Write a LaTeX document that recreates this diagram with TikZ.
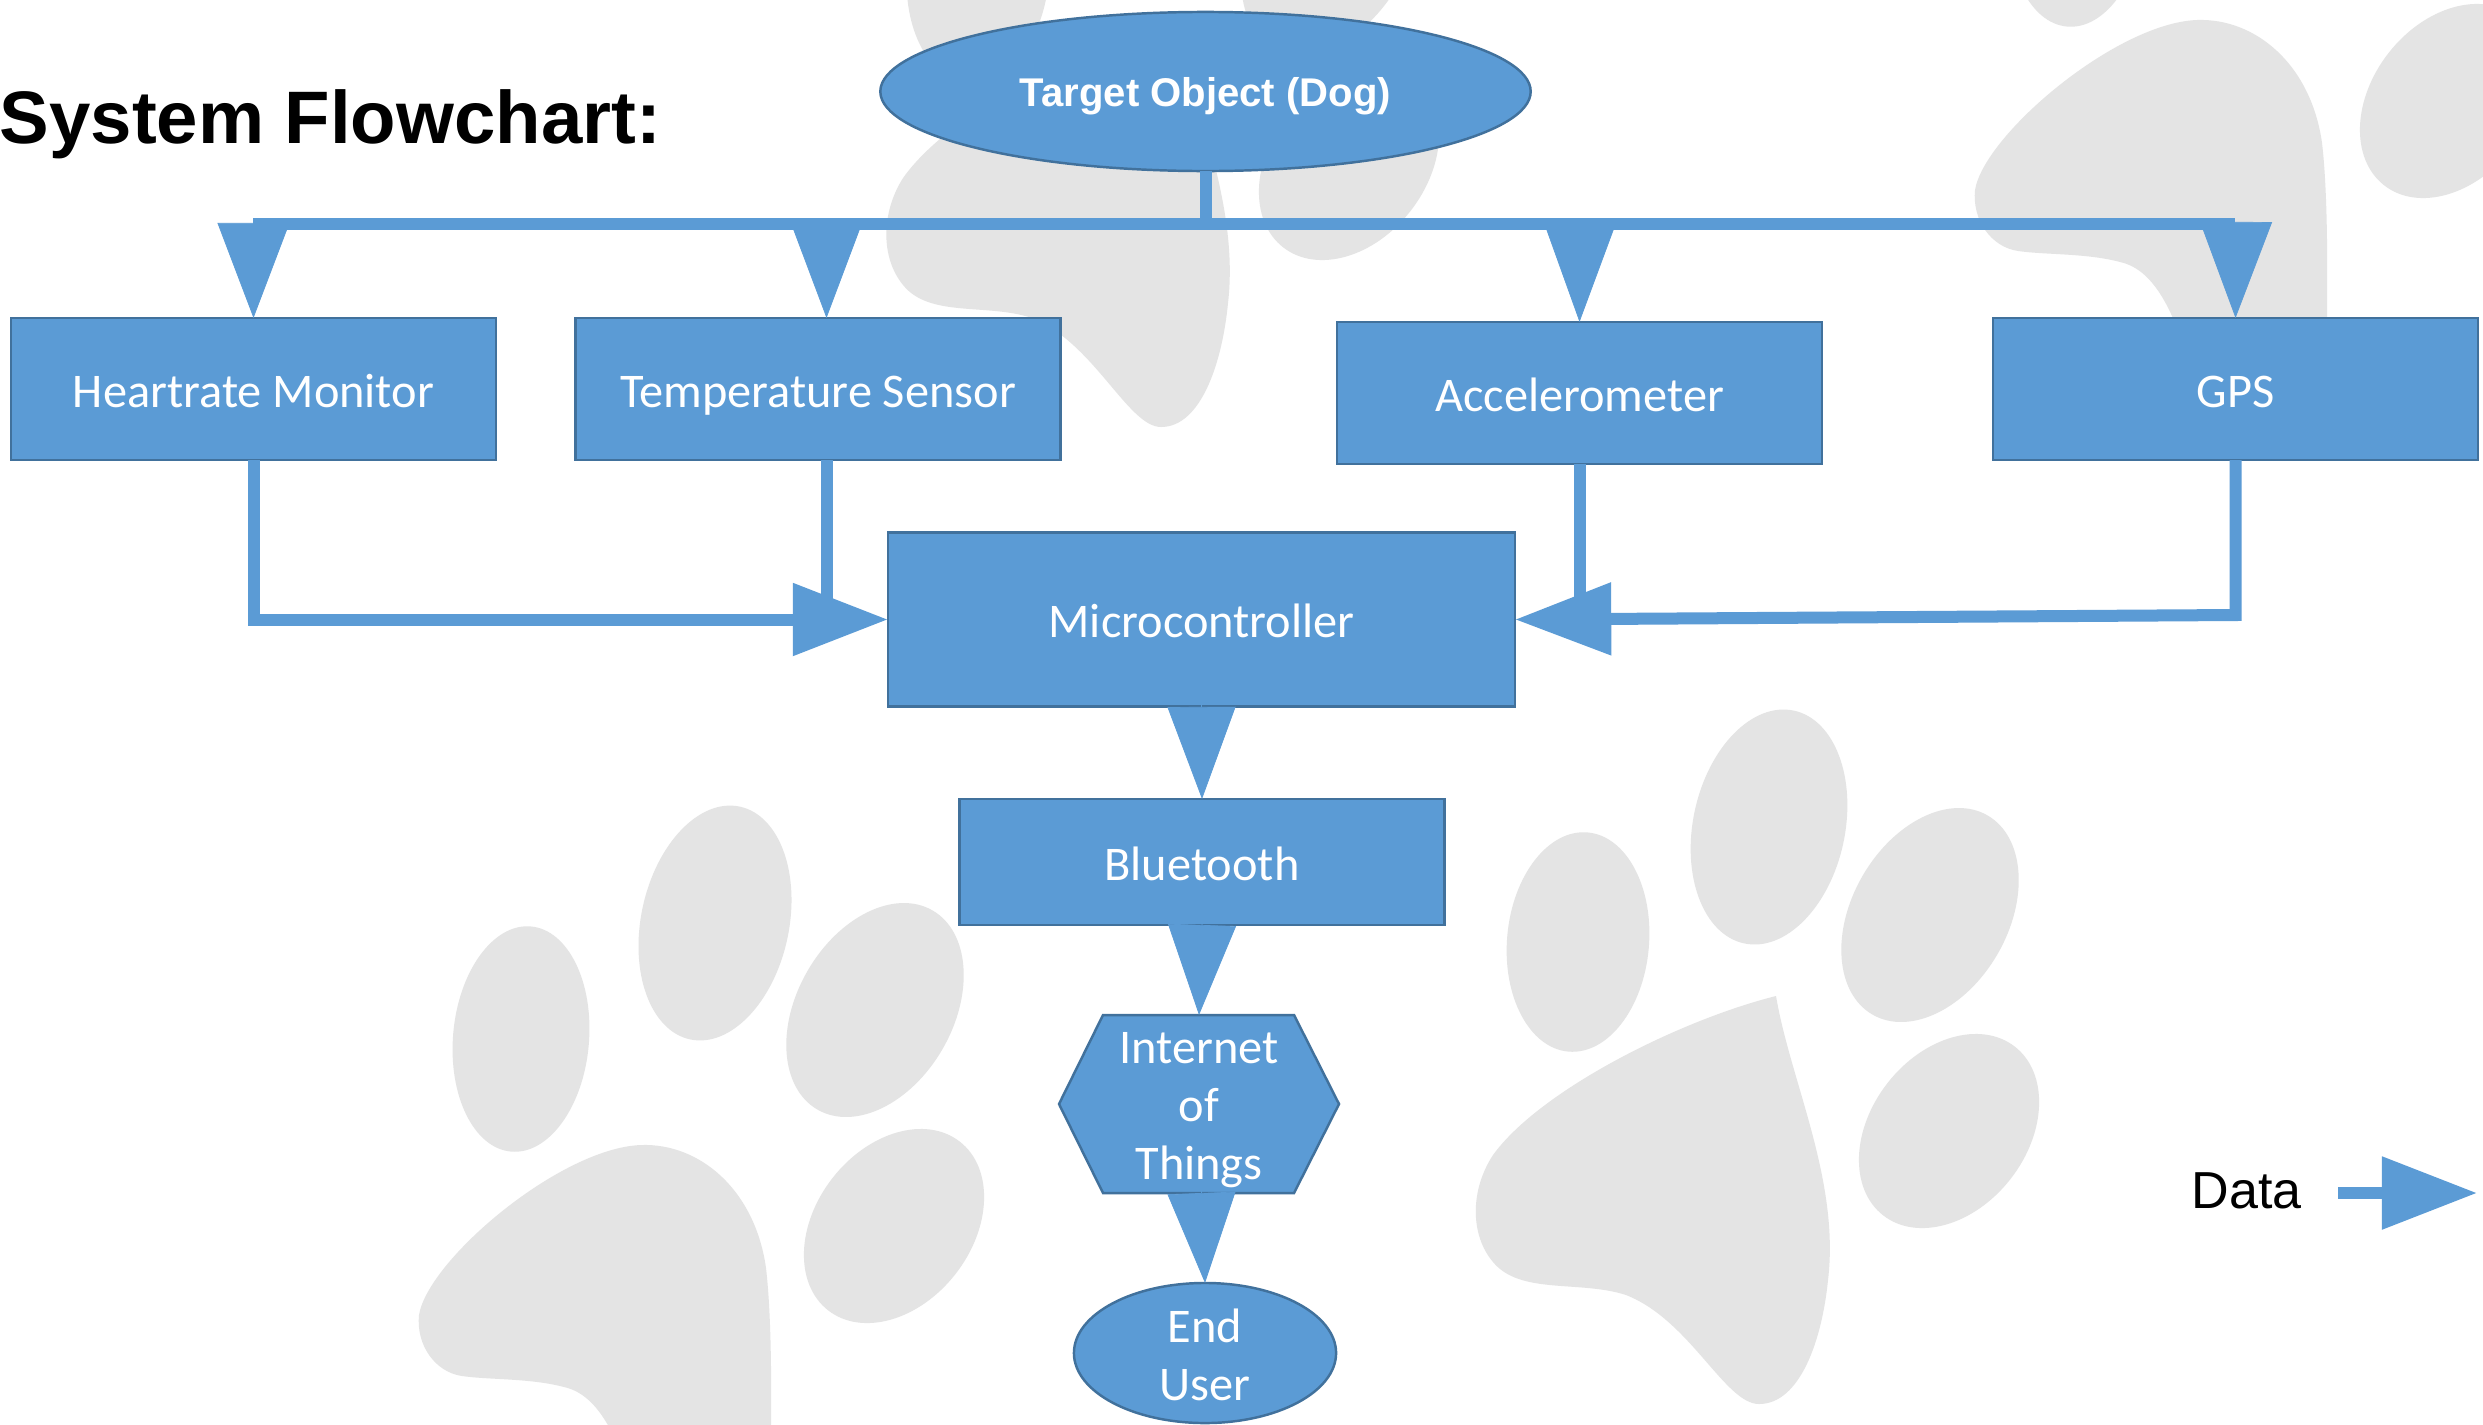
\documentclass[tikz,border=0pt]{standalone}
\usepackage{fontspec}
\setmainfont{Carlito}
\newfontfamily\arialf{Liberation Sans}
\usetikzlibrary{arrows.meta,shapes.geometric}
\definecolor{fillblue}{HTML}{5B9BD5}
\definecolor{edgeblue}{HTML}{41719C}
\definecolor{pawgray}{HTML}{E4E4E4}
\tikzset{
  shapebase/.style={draw=edgeblue,fill=fillblue,line width=0.7pt,text=white,inner sep=0pt,outer sep=0pt,align=center,
     font=\fontsize{13.75}{16.6}\selectfont},
  boxnode/.style={shapebase,rectangle,minimum width=#1,text height=0.44cm,text depth=0.08cm},
  busline/.style={draw=fillblue,line width=0.12cm},
  flowline/.style={draw=fillblue,line width=0.12cm,-{Triangle[length=#1,width=0.70cm]}},
  bighead/.style={draw=fillblue,fill=fillblue,line width=0.2pt,shorten <=-0.04cm,-{Triangle[length=#1,width=0.68cm]}},
  tophead/.style={draw=fillblue,fill=fillblue,line width=0.2pt,-{Triangle[length=#1,width=0.72cm]}},
  pawfill/.style={fill=pawgray,draw=none},
}
\newcommand{\toe}[5]{\fill[pawfill,shift={(#1,#2)},rotate=#5] (0,0) ellipse [x radius=#3,y radius=#4];}
\newcommand{\pawA}[2]{\begin{scope}[shift={(#1,#2)}]
  \toe{521}{1039}{68}{113}{-5}
  \toe{715}{923}{74}{119}{-12}
  \toe{875}{1010}{78}{115}{-30}
  \toe{894}{1226}{78}{107}{-38}
  \fill[pawfill] (419,1315) .. controls (428,1260) and (560,1148) .. (641,1145)
     .. controls (700,1143) and (755,1190) .. (766,1268)
     .. controls (772,1320) and (772,1400) .. (770,1510) -- (640,1510)
     .. controls (620,1440) and (600,1395) .. (564,1387)
     .. controls (530,1378) and (490,1380) .. (462,1376)
     .. controls (435,1372) and (416,1345) .. (419,1315) -- cycle;
\end{scope}}
% pad shift x,y; toe shift x,y; pad x-scale
\newcommand{\pawB}[5]{\begin{scope}[shift={(#3,#4)}]
  \toe{1578}{942}{71}{110}{-5}
  \toe{1769}{827}{76}{119}{-12}
  \toe{1930}{915}{78}{115}{-30}
  \toe{1949}{1131}{78}{107}{-38}
\end{scope}
\begin{scope}[shift={(#1,#2)},shift={(1828,0)},xscale=#5,shift={(-1828,0)}]
  \fill[pawfill] (1776,996) .. controls (1790,1080) and (1840,1180) .. (1828,1280)
     .. controls (1822,1340) and (1800,1404) .. (1759,1404)
     .. controls (1725,1404) and (1690,1320) .. (1626,1295)
     .. controls (1580,1280) and (1520,1295) .. (1493,1262)
     .. controls (1470,1235) and (1470,1190) .. (1493,1155)
     .. controls (1540,1090) and (1680,1020) .. (1776,996) -- cycle;
\end{scope}}
\begin{document}
\begin{tikzpicture}[x=0.01cm,y=-0.01cm]
\useasboundingbox (0,0) rectangle (2483,1424);
\begin{scope}
\clip (0,0) rectangle (2483,1424);
\fill[white] (0,0) rectangle (2483,1424);
\pawA{0}{0}
\pawB{0}{0}{0}{0}{1}
\pawB{-600}{-977}{-600}{-968}{0.97}
\pawA{1556}{-1125}
\end{scope}
% nodes
\node[shapebase,ellipse,minimum width=6.50cm,minimum height=1.59cm,text height=0.37cm,text depth=0.08cm,font=\arialf\bfseries\fontsize{11.4}{14}\selectfont] (target) at (1205.5,91.5) {Target Object (Dog)};
\node[boxnode=4.85cm,minimum height=1.42cm] (heart) at (253.5,389) {Heartrate Monitor};
\node[boxnode=4.85cm,minimum height=1.42cm] (temp) at (818,389) {Temperature Sensor};
\node[boxnode=4.85cm,minimum height=1.42cm] (accel) at (1579.5,393) {Accelerometer};
\node[boxnode=4.85cm,minimum height=1.42cm] (gps) at (2235.5,389) {GPS};
\node[boxnode=6.27cm,minimum height=1.74cm] (micro) at (1201.5,619.5) {Microcontroller};
\node[boxnode=4.85cm,minimum height=1.26cm] (bt) at (1202,862) {Bluetooth};
\fill[fillblue,draw=edgeblue,line width=0.7pt] (1103,1015) -- (1294,1015) -- (1339,1104) -- (1294,1193) -- (1103,1193) -- (1059,1104) -- cycle;
\node[text=white,inner sep=0pt,outer sep=0pt,align=center,minimum width=2.8cm,minimum height=1.78cm,font=\fontsize{13.75}{16.6}\selectfont] (iot) at (1199,1104) {\rule{0pt}{0.43cm}Internet\\of\\Things};
\node[shapebase,ellipse,minimum width=2.62cm,minimum height=1.40cm] (enduser) at (1205,1353) {\rule{0pt}{0.37cm}End\\User};
\node[anchor=base west,inner sep=0pt,font=\arialf\bfseries\fontsize{21.15}{25}\selectfont] (title) at (-1,143) {System Flowchart:};
\node[anchor=base west,inner sep=0pt,font=\arialf\fontsize{14.8}{18}\selectfont] (datalabel) at (2191,1208) {Data};
% coordinates
\coordinate (busL) at (253,224);
\coordinate (busR) at (2235,224);
\coordinate (hA) at (253.5,222);
\coordinate (hB) at (826.5,222);
\coordinate (hC) at (1580,222);
\coordinate (hD) at (2236,222);
\coordinate (jt) at (826.5,600);
\coordinate (cornerR) at (2235.5,615);
\coordinate (dataS) at (2338,1193);
\coordinate (dataE) at (2477,1193);
% connectors
\draw[busline] (target.south) -- (target.south |- busL);
\draw[busline] (busL) -- (busR);
\draw[tophead=0.95cm] (hA) -- (heart.north);
\draw[tophead=0.96cm] (hB) -- (hB |- temp.north);
\draw[tophead=0.99cm] (hC) -- (accel.north);
\draw[tophead=0.96cm] (hD) -- (gps.north);
\draw[busline] (hB |- temp.south) -- (jt);
\draw[busline] (accel.south) -- (accel.south |- jt);
\draw[flowline=0.95cm] (heart.south) -- (heart.south |- micro.west) -- (micro.west);
\draw[flowline=0.96cm] (gps.south) -- (cornerR) -- (micro.east);
\draw[bighead=0.92cm] (micro.south) -- (bt.north);
\draw[bighead=0.90cm] (bt.south) -- (iot.north);
\draw[bighead=0.90cm] ([xshift=0.025cm]iot.south) -- (enduser.north);
\draw[flowline=0.95cm] (dataS) -- (dataE);
\end{tikzpicture}
\end{document}
